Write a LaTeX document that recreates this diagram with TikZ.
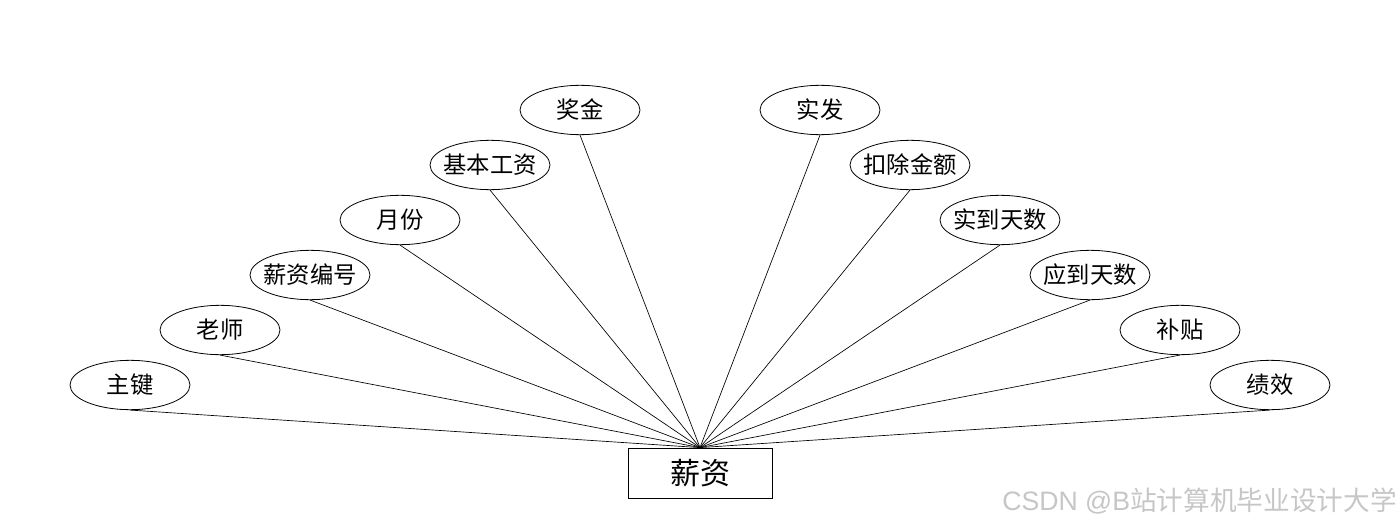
\documentclass[tikz,border=0pt]{standalone}
\usepackage{fontspec}
\setmainfont{Noto Sans CJK SC}
\newfontfamily\wmlatin{Liberation Sans}
\usetikzlibrary{shapes.geometric}
\begin{document}
\begin{tikzpicture}[x=0.75pt,y=-0.75pt,
  attr/.style={draw, ellipse, line width=0.6pt, minimum width=90pt, minimum height=37pt, inner xsep=-8pt, inner ysep=0pt, font=\fontsize{17.5}{19}\selectfont},
  entity/.style={draw, rectangle, line width=0.6pt, minimum width=108pt, minimum height=37.5pt, inner sep=0pt, font=\fontsize{22.5}{24}\selectfont},
  link/.style={line width=0.5pt}]
\useasboundingbox (0,0) rectangle (1400,528);
\node[entity] (e) at (700,473) {薪资};
\node[attr] (a1) at (130,385) {主键};
\node[attr] (a2) at (220,330) {老师};
\node[attr] (a3) at (310,275) {薪资编号};
\node[attr] (a4) at (400,220) {月份};
\node[attr] (a5) at (490,165) {基本工资};
\node[attr] (a6) at (580,110) {奖金};
\node[attr] (b6) at (820,110) {实发};
\node[attr] (b5) at (910,165) {扣除金额};
\node[attr] (b4) at (1000,220) {实到天数};
\node[attr] (b3) at (1090,275) {应到天数};
\node[attr] (b2) at (1180,330) {补贴};
\node[attr] (b1) at (1270,385) {绩效};
\foreach \n in {a1,a2,a3,a4,a5,a6,b1,b2,b3,b4,b5,b6}
  \draw[link] (\n.south) -- (e.north);
\node[anchor=east, text=gray!45, font=\fontsize{20}{22}\selectfont, inner sep=0pt] (wm) at (1397,501) {{\wmlatin CSDN @B}站计算机毕业设计大学};
\end{tikzpicture}
\end{document}
